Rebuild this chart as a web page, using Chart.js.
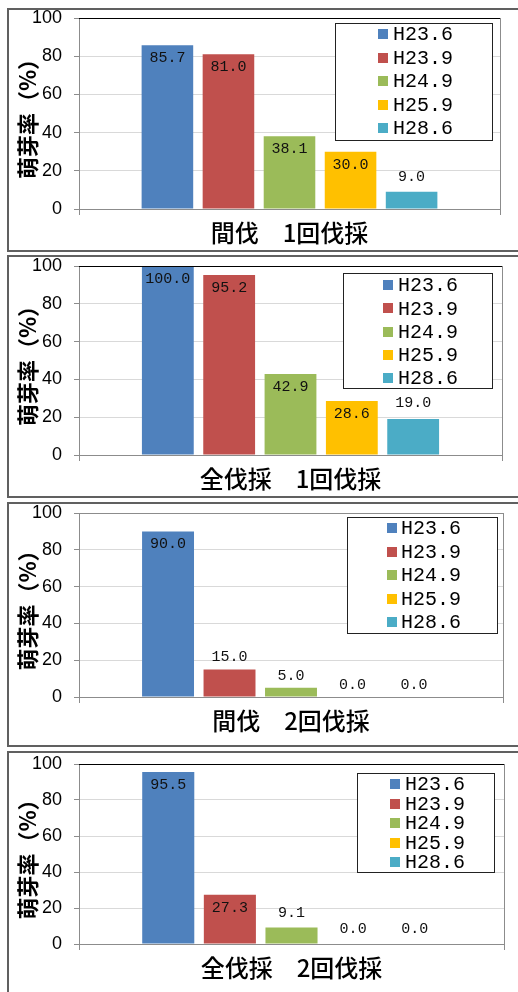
<!DOCTYPE html>
<html>
<head>
<meta charset="utf-8">
<script src="https://cdn.jsdelivr.net/npm/chart.js@4"></script>
<style>
  html, body { margin: 0; padding: 0; background: #fff; }
  body { width: 518px; height: 992px; overflow: hidden; position: relative; }
  .frame { position: absolute; left: 7px; width: 620px; box-sizing: border-box; border: 2px solid #606060; }
  canvas { position: absolute; left: 0; }
</style>
</head>
<body>
<script>
// Sprouting rate (%) by survey date, one chart per cutting treatment
const seriesNames = ['H23.6', 'H23.9', 'H24.9', 'H25.9', 'H28.6'];
const seriesColors = ['#4F81BD', '#C0504D', '#9BBB59', '#FFC000', '#4BACC6'];
const yTicks = [0, 20, 40, 60, 80, 100];
const panelTitles = ['間伐　1回伐採', '全伐採　1回伐採', '間伐　2回伐採', '全伐採　2回伐採'];
const thinningOnce  = [85.7, 81.0, 38.1, 30.0, 9.0];
const clearcutOnce  = [100.0, 95.2, 42.9, 28.6, 19.0];
const thinningTwice = [90.0, 15.0, 5.0, 0.0, 0.0];
const clearcutTwice = [95.5, 27.3, 9.1, 0.0, 0.0];
const panelValues = [thinningOnce, clearcutOnce, thinningTwice, clearcutTwice];

// page geometry of each framed chart
const frames = [
  { top: 8,   bottom: 252,  area: { top: 18,  bottom: 209, right: 500 }, legend: { x: 335, y: 23,  w: 157, h: 117, first: 11, row: 23.5, sw: 43, tx: 58 }, topLine: '#000', above: 15 },
  { top: 255, bottom: 498,  area: { top: 266, bottom: 455, right: 502 }, legend: { x: 343, y: 273, w: 149, h: 115, first: 12, row: 23.3, sw: 40, tx: 55 }, topLine: '#000', above: 16 },
  { top: 502, bottom: 747,  area: { top: 513, bottom: 697, right: 503 }, legend: { x: 347, y: 517, w: 150, h: 116, first: 11, row: 23.5, sw: 40, tx: 54 }, topLine: '#8c8c8c', above: 12 },
  { top: 751, bottom: 1010, area: { top: 764, bottom: 944, right: 504 }, legend: { x: 357, y: 773, w: 137, h: 99,  first: 11, row: 19.5, sw: 33, tx: 48 }, topLine: '#000', above: 15 }
];

const AXIS_GRAY = '#8c8c8c';
const MONO = '"Liberation Mono", "DejaVu Sans Mono", monospace';

// plot-area top and right edges
const plotFrame = {
  id: 'plotFrame',
  afterDraw(chart, args, o) {
    const { ctx, chartArea: a } = chart;
    ctx.save();
    ctx.lineWidth = 1;
    ctx.strokeStyle = o.topColor;
    ctx.beginPath();
    ctx.moveTo(a.left, Math.round(a.top) + 0.5);
    ctx.lineTo(a.right + 1, Math.round(a.top) + 0.5);
    ctx.stroke();
    ctx.strokeStyle = AXIS_GRAY;
    ctx.beginPath();
    ctx.moveTo(Math.round(a.right) + 0.5, a.top);
    ctx.lineTo(Math.round(a.right) + 0.5, a.bottom);
    ctx.stroke();
    ctx.restore();
  }
};

// value printed at each bar
const valueLabels = {
  id: 'valueLabels',
  afterDatasetsDraw(chart, args, o) {
    const ctx = chart.ctx;
    ctx.save();
    ctx.font = '15px ' + MONO;
    ctx.fillStyle = '#111';
    ctx.textAlign = 'center';
    ctx.textBaseline = 'middle';
    chart.data.datasets.forEach((ds, i) => {
      const bar = chart.getDatasetMeta(i).data[0];
      const v = ds.data[0];
      const y = v >= 25 ? bar.y + 13 : bar.y - o.above;
      ctx.fillText(v.toFixed(1), bar.x, y);
    });
    ctx.restore();
  }
};

// boxed series key inside the plot
const boxLegend = {
  id: 'boxLegend',
  afterDraw(chart, args, o) {
    const ctx = chart.ctx;
    ctx.save();
    ctx.fillStyle = '#fff';
    ctx.fillRect(o.x, o.y, o.w, o.h);
    ctx.strokeStyle = '#222';
    ctx.lineWidth = 1;
    ctx.strokeRect(o.x + 0.5, o.y + 0.5, o.w, o.h);
    ctx.font = '20px ' + MONO;
    ctx.textAlign = 'left';
    ctx.textBaseline = 'middle';
    chart.data.datasets.forEach((ds, i) => {
      const cy = o.y + o.first + i * o.row;
      ctx.fillStyle = ds.backgroundColor;
      ctx.fillRect(o.x + o.sw, Math.round(cy - 5), 10, 10);
      ctx.fillStyle = '#000';
      ctx.fillText(ds.label, o.x + o.tx, cy + 1);
    });
    ctx.restore();
  }
};

frames.forEach((f, p) => {
  const frame = document.createElement('div');
  frame.className = 'frame';
  frame.style.top = f.top + 'px';
  frame.style.height = (f.bottom - f.top) + 'px';
  document.body.appendChild(frame);

  const H = Math.min(f.bottom, 992) - f.top;
  const canvas = document.createElement('canvas');
  canvas.width = 518;
  canvas.height = H;
  canvas.style.top = f.top + 'px';
  canvas.style.width = '518px';
  canvas.style.height = H + 'px';
  document.body.appendChild(canvas);

  const values = panelValues[p];
  const lg = f.legend;

  new Chart(canvas, {
    type: 'bar',
    data: {
      labels: [panelTitles[p]],
      datasets: seriesNames.map((name, i) => ({
        label: name,
        data: [values[i]],
        backgroundColor: seriesColors[i],
        borderWidth: 0
      }))
    },
    options: {
      responsive: false,
      animation: false,
      devicePixelRatio: 1,
      layout: { padding: { top: f.area.top - f.top, right: 518 - f.area.right, left: 0, bottom: 0 } },
      datasets: { bar: { categoryPercentage: 0.725, barPercentage: 0.845 } },
      plugins: {
        legend: { display: false },
        tooltip: { enabled: false },
        valueLabels: { above: f.above },
        boxLegend: { x: lg.x, y: lg.y - f.top, w: lg.w, h: lg.h, first: lg.first, row: lg.row, sw: lg.sw, tx: lg.tx },
        plotFrame: { topColor: f.topLine }
      },
      scales: {
        x: {
          grid: { drawOnChartArea: false, tickLength: 6, color: AXIS_GRAY },
          border: { color: AXIS_GRAY },
          ticks: { color: '#000', padding: 3, font: { family: '"Noto Sans CJK JP", sans-serif', size: 24, weight: 500 } },
          afterFit(s) { s.height = H - (f.area.bottom - f.top); s.paddingLeft = 0; s.paddingRight = 0; }
        },
        y: {
          min: 0,
          max: 100,
          afterBuildTicks(s) { s.ticks = yTicks.map(v => ({ value: v })); },
          grid: { color: '#d9d9d9', tickLength: 5, tickColor: AXIS_GRAY },
          border: { color: AXIS_GRAY },
          ticks: { color: '#000', padding: 12, font: { family: '"Liberation Sans", Arial, sans-serif', size: 18 } },
          title: {
            display: true,
            text: '萌芽率（%）',
            color: '#000',
            padding: { top: 14, bottom: 0 },
            font: { family: '"Noto Sans CJK JP", sans-serif', size: 22, weight: 'bold' }
          },
          afterFit(s) { s.width = 79; s.paddingTop = 0; s.paddingBottom = 0; }
        }
      }
    },
    plugins: [valueLabels, plotFrame, boxLegend]
  });
});
</script>
</body>
</html>
